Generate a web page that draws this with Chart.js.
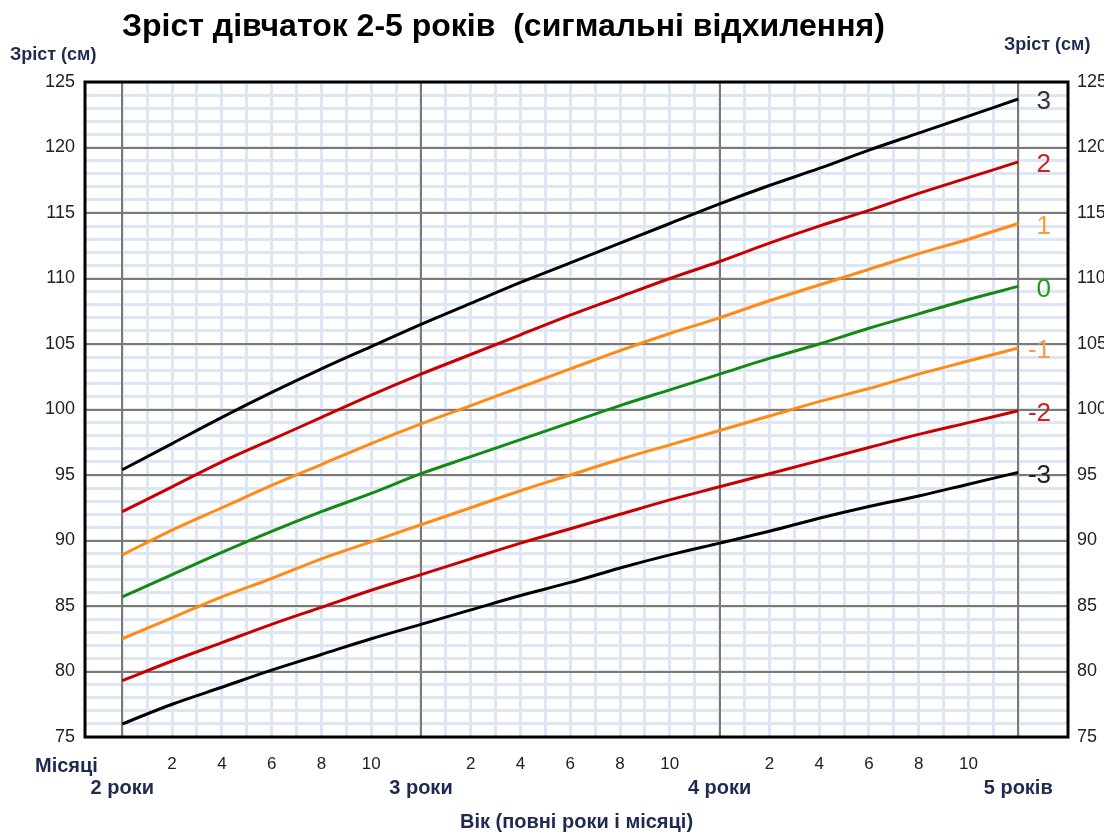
<!DOCTYPE html>
<html>
<head>
<meta charset="utf-8">
<script src="https://cdn.jsdelivr.net/npm/chart.js@4.4.1/dist/chart.umd.min.js"></script>
<style>
body { margin: 0; background: #fff; }
#wrap { width: 1104px; height: 834px; }
</style>
</head>
<body>
<div id="wrap"><canvas id="myChart" width="1104" height="834"></canvas></div>
<script>
// age in months, every 2 months from 2 to 5 years
const months = [24, 26, 28, 30, 32, 34, 36, 38, 40, 42, 44, 46, 48, 50, 52, 54, 56, 58, 60];

// height (cm) for each sigma line
const sdPlus3  = [95.4, 97.4, 99.4, 101.3, 103.1, 104.8, 106.5, 108.1, 109.7, 111.2, 112.7, 114.2, 115.7, 117.1, 118.4, 119.8, 121.1, 122.4, 123.7];
const sdPlus2  = [92.2, 94.1, 96.0, 97.7, 99.4, 101.1, 102.7, 104.2, 105.7, 107.2, 108.6, 110.0, 111.3, 112.7, 114.0, 115.2, 116.5, 117.7, 118.9];
const sdPlus1  = [88.9, 90.8, 92.5, 94.2, 95.8, 97.4, 98.9, 100.3, 101.7, 103.1, 104.5, 105.8, 107.0, 108.3, 109.5, 110.7, 111.9, 113.0, 114.2];
const median   = [85.7, 87.4, 89.1, 90.7, 92.2, 93.6, 95.1, 96.4, 97.7, 99.0, 100.3, 101.5, 102.7, 103.9, 105.0, 106.2, 107.3, 108.4, 109.4];
const sdMinus1 = [82.5, 84.1, 85.7, 87.1, 88.6, 89.9, 91.2, 92.5, 93.8, 95.0, 96.2, 97.3, 98.4, 99.5, 100.6, 101.6, 102.7, 103.7, 104.7];
const sdMinus2 = [79.3, 80.8, 82.2, 83.6, 84.9, 86.2, 87.4, 88.6, 89.8, 90.9, 92.0, 93.1, 94.1, 95.1, 96.1, 97.1, 98.1, 99.0, 99.9];
const sdMinus3 = [76.0, 77.5, 78.8, 80.1, 81.3, 82.5, 83.6, 84.7, 85.8, 86.8, 87.9, 88.9, 89.8, 90.7, 91.7, 92.6, 93.4, 94.3, 95.2];

const zLabels = ['3', '2', '1', '0', '-1', '-2', '-3'];
const yearTicks = [24, 36, 48, 60];
const yearLabels = {24: '2 роки', 36: '3 роки', 48: '4 роки', 60: '5 років'};

Chart.defaults.font.family = 'Arial, "Liberation Sans", sans-serif';
Chart.defaults.font.size = 17;
Chart.defaults.color = '#222';

const blue = '#dde6f4';
const grey = '#7b7b73';
const navy = '#1f2a50';
const lineColors = ['#000000', '#c80000', '#ff8a14', '#138a13', '#ff8a14', '#c80000', '#000000'];
const labelColors = ['#333333', '#cc2222', '#ff9a3c', '#229a22', '#ff9a50', '#cc2222', '#222222'];

function toPoints(arr) {
  return months.map((m, i) => ({x: m, y: arr[i]}));
}

const series = [sdPlus3, sdPlus2, sdPlus1, median, sdMinus1, sdMinus2, sdMinus3];

const extraText = {
  id: 'extraText',
  afterDraw(chart) {
    const c = chart.ctx;
    const a = chart.chartArea;
    const ys = chart.scales.y;
    c.save();
    // frame
    c.strokeStyle = '#000';
    c.lineWidth = 3;
    c.strokeRect(a.left, a.top, a.right - a.left, a.bottom - a.top);

    c.textBaseline = 'middle';
    c.fillStyle = '#000';
    c.font = 'bold 32px Arial, "Liberation Sans", sans-serif';
    c.textAlign = 'left';
    c.fillText('Зріст дівчаток 2-5 років  (сигмальні відхилення)', 122, 27);

    c.fillStyle = navy;
    c.font = 'bold 18px Arial, "Liberation Sans", sans-serif';
    c.fillText('Зріст (см)', 10, 55);
    c.fillText('Зріст (см)', 1004, 45);
    c.font = 'bold 20px Arial, "Liberation Sans", sans-serif';
    c.fillText('Місяці', 35, 766);

    // sigma labels at the end of each line
    c.font = '26px Arial, "Liberation Sans", sans-serif';
    c.textAlign = 'right';
    series.forEach((arr, i) => {
      c.fillStyle = labelColors[i];
      c.fillText(zLabels[i], 1051, ys.getPixelForValue(arr[arr.length - 1]) + 3);
    });
    c.restore();
  }
};

new Chart('myChart', {
  type: 'line',
  data: {
    datasets: series.map((arr, i) => ({
      label: zLabels[i],
      data: toPoints(arr),
      borderColor: lineColors[i],
      borderWidth: 3,
      pointRadius: 0,
      cubicInterpolationMode: 'monotone',
      fill: false
    }))
  },
  options: {
    responsive: false,
    animation: false,
    layout: { padding: { top: 82, left: 0, right: 0, bottom: 0 } },
    plugins: {
      legend: { display: false },
      tooltip: { enabled: false }
    },
    scales: {
      x: {
        type: 'linear',
        position: 'bottom',
        min: 22.5,
        max: 62,
        afterBuildTicks: (s) => {
          s.ticks = [];
          for (let m = 24; m <= 60; m++) s.ticks.push({value: m});
        },
        afterFit: (s) => { s.height = 38; },
        grid: { color: blue, lineWidth: 3, drawTicks: false },
        border: { display: false },
        ticks: {
          autoSkip: false,
          maxRotation: 0,
          padding: 17,
          color: '#222',
          callback: (v) => (v % 12 !== 0 && v % 2 === 0) ? String(v % 12) : ''
        }
      },
      x2: {
        type: 'linear',
        position: 'bottom',
        min: 22.5,
        max: 62,
        afterBuildTicks: (s) => { s.ticks = yearTicks.map(v => ({value: v})); },
        afterFit: (s) => { s.height = 59; },
        grid: { color: grey, lineWidth: 2, drawTicks: false, z: -0.5 },
        border: { display: false },
        ticks: {
          autoSkip: false,
          maxRotation: 0,
          padding: 1,
          color: navy,
          font: { size: 20, weight: 'bold' },
          callback: (v) => yearLabels[v] || ''
        },
        title: {
          display: true,
          text: 'Вік (повні роки і місяці)',
          color: navy,
          font: { size: 20, weight: 'bold' },
          padding: { top: 0, bottom: 0 }
        }
      },
      y: {
        position: 'left',
        min: 75,
        max: 125,
        afterBuildTicks: (s) => {
          s.ticks = [];
          for (let v = 75; v <= 125; v++) s.ticks.push({value: v});
        },
        afterFit: (s) => { s.width = 85; },
        grid: { color: blue, lineWidth: 3, drawTicks: false },
        border: { display: false },
        ticks: {
          autoSkip: false,
          padding: 10,
          color: '#222',
          font: { size: 18 },
          callback: (v) => v % 5 === 0 ? String(v) : ''
        }
      },
      y2: {
        position: 'right',
        min: 75,
        max: 125,
        afterBuildTicks: (s) => {
          s.ticks = [];
          for (let v = 75; v <= 125; v += 5) s.ticks.push({value: v});
        },
        afterFit: (s) => { s.width = 36; },
        grid: { color: grey, lineWidth: 2, drawTicks: false, z: -0.5 },
        border: { display: false },
        ticks: {
          autoSkip: false,
          padding: 9,
          color: '#222',
          font: { size: 18 }
        }
      }
    }
  },
  plugins: [extraText]
});
</script>
</body>
</html>
